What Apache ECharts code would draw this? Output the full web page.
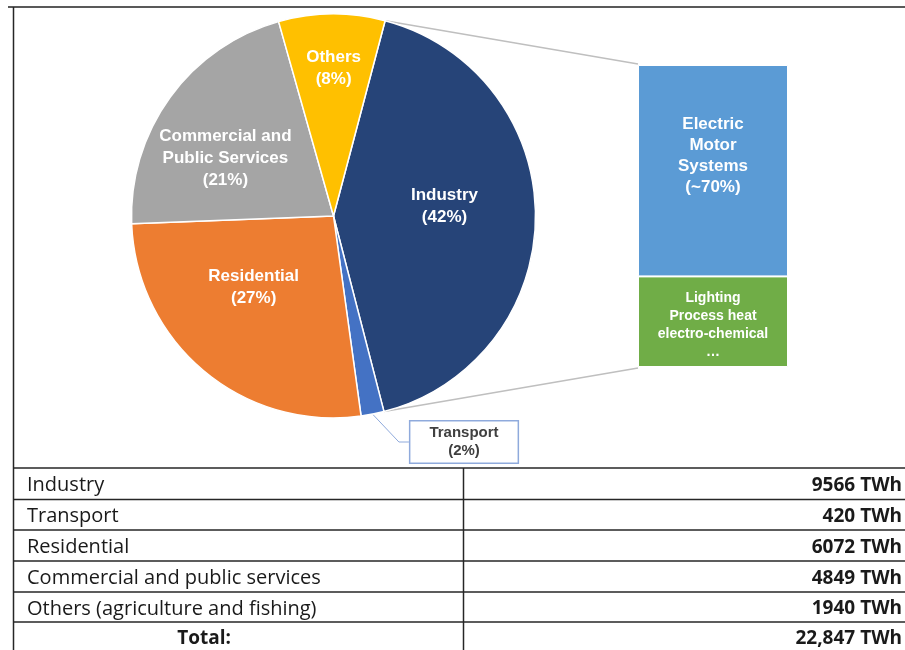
<!DOCTYPE html>
<html>
<head>
<meta charset="utf-8">
<script src="https://cdn.jsdelivr.net/npm/echarts@6/dist/echarts.min.js"></script>
<style>
  html, body { margin: 0; padding: 0; background: #fff; }
  #main { width: 905px; height: 650px; }
</style>
</head>
<body>
<div id="main"></div>
<script>
// ---- data ----
const sectors = ['Industry', 'Transport', 'Residential', 'Commercial and\nPublic Services', 'Others'];
const sectorValues = [9566, 420, 6072, 4849, 1940];
const tableLabels = ['Industry', 'Transport', 'Residential', 'Commercial and public services', 'Others (agriculture and fishing)'];
const unit = 'TWh';
const breakdownLabels = ['Lighting\nProcess heat\nelectro-chemical\n\u2026', 'Electric\nMotor\nSystems\n(~70%)'];
const breakdownShares = [30, 70];

// ---- styles / layout ----
const sectorColors = ['#264478', '#4472C4', '#ED7D31', '#A5A5A5', '#FFC000'];
const breakdownColors = ['#70AD47', '#5B9BD5'];
const labelShift = [[7, -10], null, [-13, -8], [-24, 3], [1, -44]];
const transportBox = { x: 464, y: 442 };
const pieC = [333.5, 216], pieR = 202, startDeg = 14.8; // clockwise from 12 o'clock
const barGrid = { left: 638, top: 65, width: 150, height: 302 };
const tbl = { left: 13.5, right: 905, mid: 463.5, rows: [468, 499.5, 530, 561, 592, 622, 652] };

const total = sectorValues.reduce((a, b) => a + b, 0);
const chart = echarts.init(document.getElementById('main'));

// industry slice angular range
const indFrac = sectorValues[0] / total;
function piePt(deg) {
  const r = deg * Math.PI / 180;
  return [pieC[0] + pieR * Math.sin(r), pieC[1] - pieR * Math.cos(r)];
}
const pA = piePt(startDeg), pB = piePt(startDeg + indFrac * 360);

const graphics = [];
// outer frame
graphics.push({ type: 'line', shape: { x1: 8, y1: 7, x2: 905, y2: 7 }, style: { stroke: '#595959', lineWidth: 2 }, z: 10 });
graphics.push({ type: 'line', shape: { x1: tbl.left, y1: 7, x2: tbl.left, y2: 650 }, style: { stroke: '#262626', lineWidth: 1.5 }, z: 10 });
// connector lines
graphics.push({ type: 'line', shape: { x1: pA[0], y1: pA[1], x2: barGrid.left, y2: barGrid.top - 1 }, style: { stroke: '#BFBFBF', lineWidth: 1.5 }, z: 1 });
graphics.push({ type: 'line', shape: { x1: pB[0], y1: pB[1], x2: barGrid.left, y2: barGrid.top + barGrid.height + 1 }, style: { stroke: '#BFBFBF', lineWidth: 1.5 }, z: 1 });
// table lines
tbl.rows.slice(0, 6).forEach(function (y) {
  graphics.push({ type: 'line', shape: { x1: tbl.left, y1: y, x2: tbl.right, y2: y }, style: { stroke: '#262626', lineWidth: 1.5 }, z: 10 });
});
graphics.push({ type: 'line', shape: { x1: tbl.mid, y1: tbl.rows[0], x2: tbl.mid, y2: 650 }, style: { stroke: '#262626', lineWidth: 1.5 }, z: 10 });
const tblFont = '"Open Sans"';
tableLabels.forEach(function (lab, i) {
  const cy = (tbl.rows[i] + tbl.rows[i + 1]) / 2 + 2;
  graphics.push({ type: 'text', x: 27, y: cy, style: { text: lab, font: '20px ' + tblFont, fill: '#1a1a1a', textVerticalAlign: 'middle', textAlign: 'left' }, z: 11 });
  graphics.push({ type: 'text', x: 902, y: cy, style: { text: sectorValues[i] + ' ' + unit, font: 'bold 19px ' + tblFont, fill: '#1a1a1a', textVerticalAlign: 'middle', textAlign: 'right' }, z: 11 });
});
const cyT = (tbl.rows[5] + 650) / 2 + 3;
graphics.push({ type: 'text', x: 204, y: cyT, style: { text: 'Total:', font: 'bold 19px ' + tblFont, fill: '#1a1a1a', textVerticalAlign: 'middle', textAlign: 'center' }, z: 11 });
graphics.push({ type: 'text', x: 902, y: cyT, style: { text: total.toLocaleString('en-US') + ' ' + unit, font: 'bold 19px ' + tblFont, fill: '#1a1a1a', textVerticalAlign: 'middle', textAlign: 'right' }, z: 11 });

const pieData = sectors.map(function (name, i) {
  const item = { name: name, value: sectorValues[i], itemStyle: { color: sectorColors[i] } };
  if (i === 1) {
    item.label = {
      position: 'outside', color: '#404040', fontSize: 15, lineHeight: 18,
      backgroundColor: '#fff', borderColor: '#8FAADC', borderWidth: 1.5, padding: [3, 19, 2, 19]
    };
    item.labelLine = { show: true, length: 10, length2: 10, lineStyle: { color: '#8FAADC', width: 1 } };
  }
  return item;
});

chart.setOption({
  animation: false,
  backgroundColor: '#ffffff',
  grid: { left: barGrid.left, top: barGrid.top, width: barGrid.width, height: barGrid.height },
  xAxis: { type: 'category', data: ['Industry'], show: false },
  yAxis: { type: 'value', min: 0, max: 100, show: false },
  graphic: graphics,
  series: [
    {
      type: 'pie',
      center: pieC,
      radius: [0, pieR],
      startAngle: 90 - startDeg,
      clockwise: true,
      avoidLabelOverlap: false,
      data: pieData,
      itemStyle: { borderColor: '#ffffff', borderWidth: 1.5 },
      label: {
        show: true,
        position: 'inside',
        color: '#ffffff',
        fontFamily: 'Liberation Sans, Arial, sans-serif',
        fontWeight: 'bold',
        fontSize: 17,
        lineHeight: 22,
        formatter: function (p) { return p.name + '\n(' + Math.round(p.value / total * 100) + '%)'; }
      },
      labelLayout: function (p) {
        if (p.dataIndex === 1) {
          return { x: transportBox.x, y: transportBox.y, align: 'center', verticalAlign: 'middle' };
        }
        const s = labelShift[p.dataIndex];
        return { dx: s[0], dy: s[1] };
      }
    },
    {
      type: 'bar', stack: 'ind', barWidth: '100%',
      data: [breakdownShares[0]],
      itemStyle: { color: breakdownColors[0], borderColor: '#fff', borderWidth: 1 },
      label: { show: true, position: 'inside', formatter: breakdownLabels[0], color: '#fff', fontFamily: 'Liberation Sans, Arial, sans-serif', fontWeight: 'bold', fontSize: 14, lineHeight: 18, offset: [0, 3] }
    },
    {
      type: 'bar', stack: 'ind', barWidth: '100%',
      data: [breakdownShares[1]],
      itemStyle: { color: breakdownColors[1], borderColor: '#fff', borderWidth: 1 },
      label: { show: true, position: 'inside', formatter: breakdownLabels[1], color: '#fff', fontFamily: 'Liberation Sans, Arial, sans-serif', fontWeight: 'bold', fontSize: 17, lineHeight: 21, offset: [0, -15] }
    }
  ]
});
</script>
</body>
</html>
